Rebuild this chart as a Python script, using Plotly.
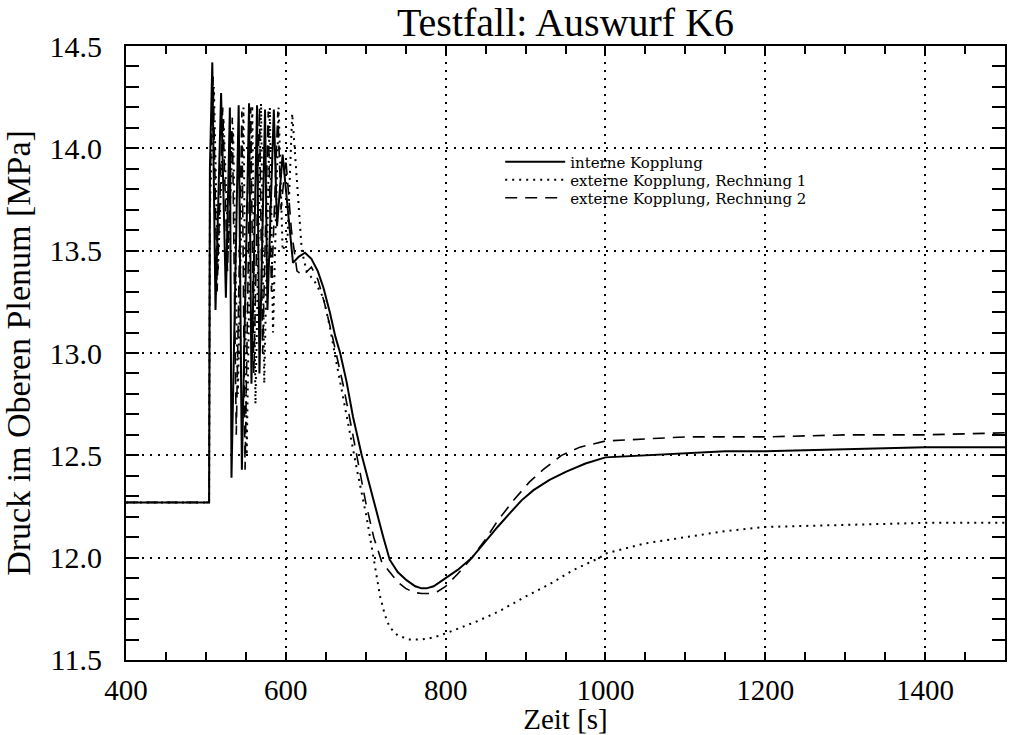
import plotly.graph_objects as go

# ---- data ----
x_intern = [400, 504, 505, 508, 512, 519, 525, 530, 532, 541, 545, 554, 557, 564, 567, 574, 577, 585,
            589, 596, 602, 609, 616, 624, 632, 640, 647, 655, 662, 668, 676, 684, 695, 705, 714, 722,
            730, 740, 751, 762, 770, 776, 785, 800, 815, 833, 850, 865, 881, 895, 910, 930, 951, 975,
            1000, 1050, 1100, 1150, 1200, 1300, 1400, 1500]
y_intern = [12.27, 12.27, 13.9, 14.42, 13.21, 14.27, 13.27, 14.20, 12.39, 14.21, 12.43, 14.22, 12.85, 14.21,
            12.90, 14.19, 13.21, 14.19, 13.62, 13.97, 13.72, 13.44, 13.47, 13.49, 13.46, 13.40, 13.32, 13.20,
            13.08, 13.00, 12.86, 12.69, 12.50, 12.35, 12.22, 12.10, 11.99, 11.93, 11.89, 11.86, 11.85, 11.85,
            11.86, 11.90, 11.94, 12.00, 12.08, 12.15, 12.22, 12.28, 12.33, 12.38, 12.42, 12.46, 12.49, 12.50,
            12.51, 12.52, 12.52, 12.53, 12.54, 12.54]

x_ext1 = [400, 504, 505, 510, 515, 522, 528, 534, 540, 547, 551, 558, 562, 569, 573, 580, 584, 591, 596,
          602, 608, 615, 620, 626, 636, 647, 655, 662, 672, 680, 690, 701, 710, 718, 724, 730, 740, 755,
          770, 785, 800, 820, 840, 868, 900, 930, 960, 993, 1000, 1050, 1100, 1150, 1200, 1300, 1400, 1500]
y_ext1 = [12.27, 12.27, 13.7, 14.3, 13.4, 14.15, 13.5, 14.1, 12.8, 14.2, 12.5, 14.21, 12.75, 14.22, 12.85,
          14.2, 13.1, 14.2, 13.5, 13.55, 14.17, 13.75, 13.5, 13.40, 13.35, 13.27, 13.13, 12.98, 12.77, 12.61,
          12.41, 12.20, 12.00, 11.81, 11.72, 11.66, 11.62, 11.60, 11.60, 11.61, 11.63, 11.66, 11.69, 11.74,
          11.81, 11.87, 11.94, 12.00, 12.02, 12.07, 12.10, 12.13, 12.15, 12.16, 12.17, 12.17]

x_ext2 = [400, 504, 505, 509, 514, 521, 527, 533, 538, 545, 549, 556, 560, 567, 571, 578, 582, 590, 594,
          600, 607, 614, 622, 632, 640, 648, 656, 664, 672, 680, 690, 700, 710, 720, 730, 740, 750, 760,
          770, 780, 790, 800, 815, 833, 850, 865, 885, 905, 922, 945, 968, 1000, 1050, 1100, 1200, 1300,
          1400, 1500]
y_ext2 = [12.27, 12.27, 13.8, 14.35, 13.3, 14.2, 13.4, 14.15, 12.6, 14.18, 12.43, 14.2, 12.9, 14.2, 13.0,
          14.18, 13.3, 14.18, 13.7, 13.95, 13.6, 13.40, 13.38, 13.42, 13.36, 13.25, 13.12, 12.98, 12.84,
          12.68, 12.48, 12.27, 12.10, 11.98, 11.93, 11.88, 11.85, 11.83, 11.825, 11.825, 11.835, 11.86,
          11.92, 12.00, 12.09, 12.18, 12.28, 12.37, 12.43, 12.50, 12.54, 12.57, 12.58, 12.59, 12.59, 12.60,
          12.60, 12.61]

names = ["interne Kopplung", "externe Kopplung, Rechnung 1", "externe Kopplung, Rechnung 2"]
title_text = "Testfall: Auswurf K6"
x_title = "Zeit [s]"
y_title = "Druck im Oberen Plenum [MPa]"

FONT = "Liberation Serif, Times New Roman, serif"
LEG_FONT = "DejaVu Serif, serif"

fig = go.Figure()
fig.add_trace(go.Scatter(x=x_intern, y=y_intern, mode="lines", name=names[0], legend="legend",
                         line=dict(color="black", width=2, dash="solid")))
fig.add_trace(go.Scatter(x=x_ext1, y=y_ext1, mode="lines", name=names[1], legend="legend2",
                         line=dict(color="black", width=2, dash="2px,5px")))
fig.add_trace(go.Scatter(x=x_ext2, y=y_ext2, mode="lines", name=names[2], legend="legend3",
                         line=dict(color="black", width=1.6, dash="12px,8px")))

axis_common = dict(
    showline=True, linecolor="black", linewidth=2, mirror="ticks",
    ticks="inside", tickcolor="black", tickwidth=1.5,
    showgrid=True, gridcolor="black", gridwidth=1.8, griddash="2px,6px",
    zeroline=False,
)

fig.update_xaxes(**axis_common, range=[400, 1500], tick0=400, dtick=200, ticklen=8,
                 tickfont=dict(family=FONT, size=29, color="black"), ticklabelstandoff=3,
                 minor=dict(dtick=50, ticks="inside", ticklen=8, tickcolor="black", showgrid=False),
                 title=dict(text=x_title, font=dict(family=FONT, size=29, color="black"), standoff=0))
fig.update_yaxes(**axis_common, range=[11.4999, 14.5001], tick0=11.5, dtick=0.5, ticklen=13,
                 tickformat=".1f", ticklabelstandoff=16,
                 tickfont=dict(family=FONT, size=30, color="black"),
                 minor=dict(dtick=0.1, ticks="inside", ticklen=13, tickcolor="black", showgrid=False),
                 title=dict(text=y_title, font=dict(family=FONT, size=34, color="black"), standoff=10))

leg_common = dict(x=0.4257, xanchor="left", yanchor="middle", bgcolor="rgba(0,0,0,0)",
                  font=dict(family=LEG_FONT, size=15, color="black"), itemwidth=60,
                  borderwidth=0)

fig.update_layout(
    width=1009, height=735,
    margin=dict(l=126, r=4, t=46, b=75, autoexpand=False),
    paper_bgcolor="white", plot_bgcolor="white",
    title=dict(text=title_text, x=0.5, xref="paper", yref="container", y=0.970, yanchor="middle",
               font=dict(family=FONT, size=40, color="black")),
    showlegend=True,
    legend=dict(**leg_common, y=0.8111),
    legend2=dict(**leg_common, y=0.7818),
    legend3=dict(**leg_common, y=0.7524),
)

fig.write_html("out.html", config={"displayModeBar": False},
               post_script="document.body.style.margin='0';")
